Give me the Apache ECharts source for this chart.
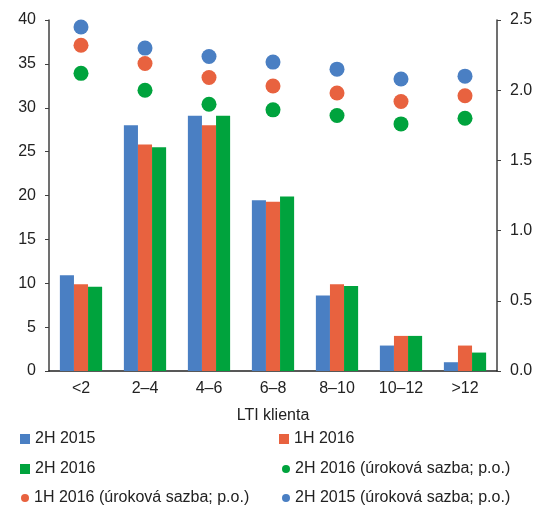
<!DOCTYPE html>
<html><head><meta charset="utf-8">
<script src="https://cdn.jsdelivr.net/npm/echarts@6/dist/echarts.min.js"></script>
<style>html,body{margin:0;padding:0;background:#fff}#c{width:537px;height:507px}</style>
</head><body><div id="c"></div>
<script>
const categories = ['<2','2–4','4–6','6–8','8–10','10–12','>12'];
const bar2H2015 = [10.9, 28.0, 29.1, 19.45, 8.6, 2.9, 1.0];
const bar1H2016 = [9.9, 25.8, 28.0, 19.3, 9.9, 4.0, 2.9];
const bar2H2016 = [9.6, 25.5, 29.1, 19.9, 9.7, 4.0, 2.1];
const rate2H2016 = [2.12, 2.00, 1.90, 1.86, 1.82, 1.76, 1.80];
const rate1H2016 = [2.32, 2.19, 2.09, 2.03, 1.98, 1.92, 1.96];
const rate2H2015 = [2.45, 2.30, 2.24, 2.20, 2.15, 2.08, 2.10];
const leftTicks = [0, 40, 5];
const rightTicks = [0, 2.5, 0.5];

const BLUE = '#4a7fc3', ORANGE = '#e8623f', GREEN = '#00a33d';
const FONT = 'Liberation Sans, Arial, sans-serif';
const chart = echarts.init(document.getElementById('c'));
const legendText = {fontFamily: FONT, fontSize: 16, color: '#222'};
function leg(name, left, top, icon, w, h) {
  return {data: [name], left: left, top: top, icon: icon, itemWidth: w, itemHeight: h,
    itemGap: 0, textStyle: legendText, padding: 0, selectedMode: false};
}
chart.setOption({
  animation: false,
  textStyle: {fontFamily: FONT},
  grid: {left: 49, right: 40, top: 20, bottom: 136},
  legend: [
    leg('2H 2015', 20, 431, 'rect', 10, 10),
    leg('1H 2016', 279, 431, 'rect', 10, 10),
    leg('2H 2016', 20, 461, 'rect', 10, 10),
    leg('2H 2016 (úroková sazba; p.o.)', 282, 461, 'circle', 8, 8),
    leg('1H 2016 (úroková sazba; p.o.)', 21, 490, 'circle', 8, 8),
    leg('2H 2015 (úroková sazba; p.o.)', 282, 490, 'circle', 8, 8)
  ],
  xAxis: {
    type: 'category', data: categories,
    axisLine: {lineStyle: {color: '#222', width: 1.5}},
    axisTick: {show: false},
    axisLabel: {color: '#222', fontSize: 16, margin: 10, fontFamily: FONT},
    name: 'LTI klienta', nameLocation: 'middle', nameGap: 37,
    nameTextStyle: {color: '#222', fontSize: 16, fontFamily: FONT}
  },
  yAxis: [
    {type: 'value', min: leftTicks[0], max: leftTicks[1], interval: leftTicks[2],
     axisLine: {show: true, lineStyle: {color: '#404040', width: 1.5}},
     axisTick: {show: true, length: 4, lineStyle: {color: '#404040'}},
     splitLine: {show: false},
     axisLabel: {color: '#222', fontSize: 16, margin: 13, fontFamily: FONT}},
    {type: 'value', min: rightTicks[0], max: rightTicks[1], interval: rightTicks[2],
     position: 'right',
     axisLine: {show: true, lineStyle: {color: '#404040', width: 1.5}},
     axisTick: {show: true, length: 4, lineStyle: {color: '#404040'}},
     splitLine: {show: false},
     axisLabel: {color: '#222', fontSize: 16, margin: 13, fontFamily: FONT,
       formatter: v => v.toFixed(1)}}
  ],
  series: [
    {name: '2H 2015', type: 'bar', data: bar2H2015, itemStyle: {color: BLUE}, barGap: '0%', barCategoryGap: '34%'},
    {name: '1H 2016', type: 'bar', data: bar1H2016, itemStyle: {color: ORANGE}},
    {name: '2H 2016', type: 'bar', data: bar2H2016, itemStyle: {color: GREEN}},
    {name: '2H 2016 (úroková sazba; p.o.)', type: 'scatter', yAxisIndex: 1, data: rate2H2016, symbolSize: 15, itemStyle: {color: GREEN, opacity: 1}},
    {name: '1H 2016 (úroková sazba; p.o.)', type: 'scatter', yAxisIndex: 1, data: rate1H2016, symbolSize: 15, itemStyle: {color: ORANGE, opacity: 1}},
    {name: '2H 2015 (úroková sazba; p.o.)', type: 'scatter', yAxisIndex: 1, data: rate2H2015, symbolSize: 15, itemStyle: {color: BLUE, opacity: 1}}
  ]
});
</script></body></html>
